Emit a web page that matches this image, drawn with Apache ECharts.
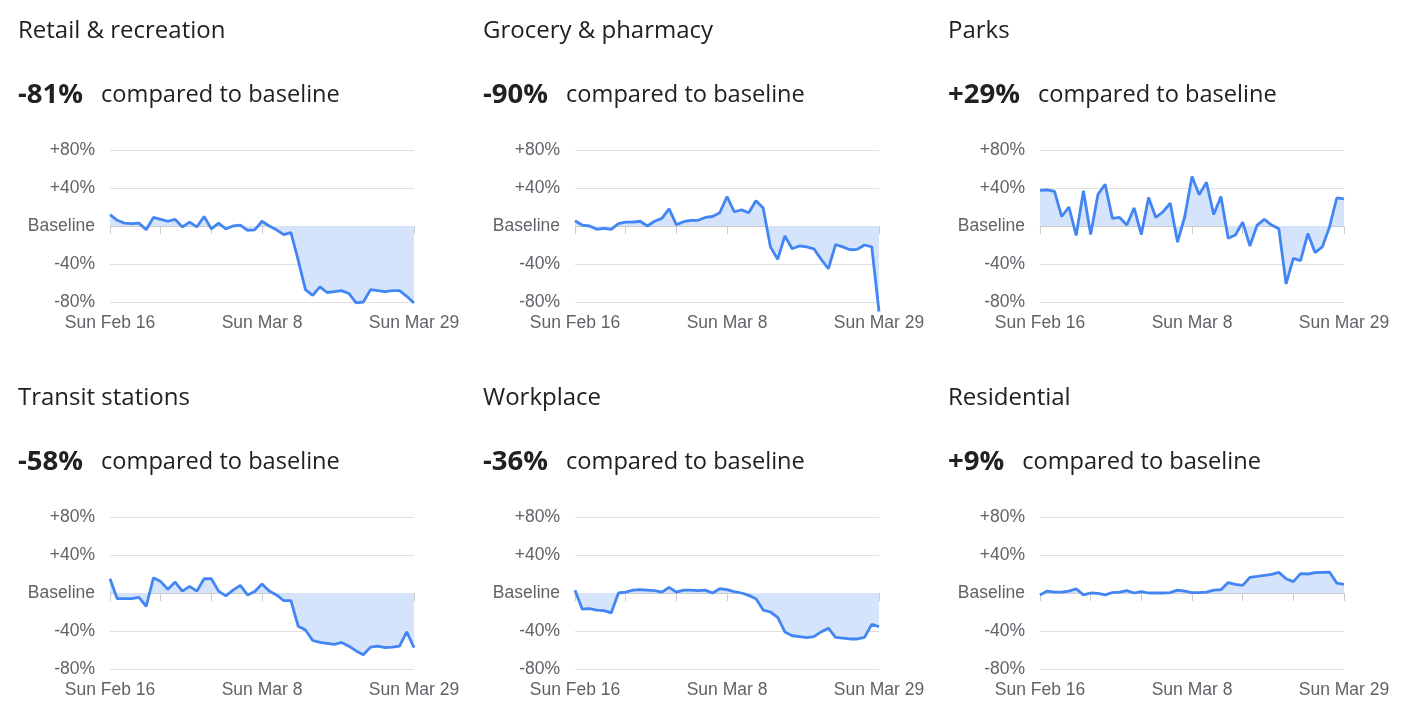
<!DOCTYPE html>
<html>
<head>
<meta charset="utf-8">
<script src="https://cdn.jsdelivr.net/npm/echarts@6/dist/echarts.min.js"></script>
<style>
html,body{margin:0;padding:0;background:#fff;}
#chart{width:1411px;height:727px;}
</style>
</head>
<body>
<div id="chart"></div>
<script>
const dates = [
  'Sun Feb 16','Mon Feb 17','Tue Feb 18','Wed Feb 19','Thu Feb 20','Fri Feb 21','Sat Feb 22',
  'Sun Feb 23','Mon Feb 24','Tue Feb 25','Wed Feb 26','Thu Feb 27','Fri Feb 28','Sat Feb 29',
  'Sun Mar 1','Mon Mar 2','Tue Mar 3','Wed Mar 4','Thu Mar 5','Fri Mar 6','Sat Mar 7',
  'Sun Mar 8','Mon Mar 9','Tue Mar 10','Wed Mar 11','Thu Mar 12','Fri Mar 13','Sat Mar 14',
  'Sun Mar 15','Mon Mar 16','Tue Mar 17','Wed Mar 18','Thu Mar 19','Fri Mar 20','Sat Mar 21',
  'Sun Mar 22','Mon Mar 23','Tue Mar 24','Wed Mar 25','Thu Mar 26','Fri Mar 27','Sat Mar 28',
  'Sun Mar 29'
];
const xTickLabels = ['Sun Feb 16', 'Sun Mar 8', 'Sun Mar 29'];
const yTicks = [-80, -40, 0, 40, 80];
const yTickLabels = ['-80%', '-40%', 'Baseline', '+40%', '+80%'];

const categories = ['Retail & recreation', 'Grocery & pharmacy', 'Parks', 'Transit stations', 'Workplace', 'Residential'];
const headlineValues = ['-81%', '-90%', '+29%', '-58%', '-36%', '+9%'];

const retail = [12,6,3,2.5,3,-4,9,7,5,7,-1,4,-1,10,-3,3,-3,0,1,-4.5,-4,5,0,-4,-9,-7,-36,-67,-73,-64,-70,-69,-68,-71,-81,-80,-67,-68,-69,-68,-68,-74,-81];
const grocery = [5.6,1,0,-3.5,-2.5,-3.5,2.5,4,4,5,0,5,8,18,1.5,4.5,6,6,9,10,14,31,15,17,14,26.5,19,-22,-35,-10.5,-24,-21,-22,-24,-35,-45,-19.6,-22,-25,-24.5,-20,-22,-90];
const parks = [37.5,38,36.5,10,20,-10,37,-9,33,44,8,9,1,19,-9,30,9,15,24,-17,10,52,33,46,12,31,-13,-9.5,4,-21,1,7,1,-3,-61,-34,-36.5,-8,-28,-22,-1,29.5,28.5];
const transit = [15,-6,-6,-6,-4.5,-14,16,12,4,11.5,2,7,2,15,15,2,-3,3,8,-2,1.5,9.5,2,-2,-8,-8,-35,-39,-50,-52,-53,-54,-52,-56,-61,-65,-57,-56,-57.5,-57,-56,-41,-57.5];
const workplace = [3,-17,-16.5,-18,-18.5,-21,0,1,3,3.5,3,2.5,1,6,1,3,3,2.5,3,0,4.5,3.5,1.5,0,-2.5,-6,-18,-20,-25.6,-41,-45,-46,-47,-46,-41,-37,-46.7,-47.4,-48.4,-48.4,-46.7,-33,-35.5];
const residential = [-2,2,1,1,2,4.5,-2,0,-0.5,-2,0.5,1,2.5,0,1.5,0,0,0,0.5,3,2,0.5,0.5,1,3,3.5,11,9,8,16.5,17.5,18.6,19.6,21.7,15,12,20.4,20,21.4,21.7,22,10.5,9];

const seriesData = [retail, grocery, parks, transit, workplace, residential];

const colLefts = [110, 575, 1040];
const rowTops = [150, 517];
const titleLefts = [18, 483, 948];
const titleTops = [19, 386];
const gridW = 304, gridH = 152;

const FONT_HEAD = '"Open Sans", Roboto, sans-serif';
const FONT_AXIS = '"Liberation Sans", Arial, sans-serif';

const titles = [], grids = [], xAxes = [], yAxes = [], series = [];
categories.forEach((name, i) => {
  const col = i % 3, row = Math.floor(i / 3);
  titles.push({
    text: name,
    left: titleLefts[col], top: titleTops[row], padding: 0,
    textStyle: { fontFamily: FONT_HEAD, fontSize: 24, fontWeight: 'normal', color: '#202124' }
  });
  titles.push({
    text: '{v|' + headlineValues[i] + '}{s|compared to baseline}',
    left: titleLefts[col], top: titleTops[row] + 62, padding: 0,
    textStyle: {
      rich: {
        v: { fontFamily: FONT_HEAD, fontSize: 27.5, fontWeight: 'bold', color: '#202124', padding: [0, 18, 0, 0] },
        s: { fontFamily: FONT_HEAD, fontSize: 23.6, fontWeight: 'normal', color: '#202124' }
      }
    }
  });
  grids.push({ left: colLefts[col], top: rowTops[row], width: gridW, height: gridH, containLabel: false });
  xAxes.push({
    type: 'category', gridIndex: i, data: dates, boundaryGap: false,
    axisLine: { show: true, lineStyle: { color: '#cccccc', width: 1 } },
    axisTick: { show: true, length: 8, lineStyle: { color: '#cccccc' }, interval: (idx) => idx % 7 === 0 },
    axisLabel: {
      interval: (idx, val) => xTickLabels.indexOf(val) >= 0,
      fontFamily: FONT_AXIS, fontSize: 17.5, color: '#5f6368', margin: 12
    },
    splitLine: { show: false }
  });
  yAxes.push({
    type: 'value', gridIndex: i, min: -80, max: 80, interval: 40,
    axisLine: { show: false }, axisTick: { show: false },
    axisLabel: {
      fontFamily: FONT_AXIS, fontSize: 17.5, color: '#5f6368', margin: 15,
      formatter: (v) => { const k = yTicks.indexOf(v); return k >= 0 ? yTickLabels[k] : ''; }
    },
    splitLine: { show: true, lineStyle: { color: '#e0e0e0', width: 1 } }
  });
  series.push({
    type: 'line', xAxisIndex: i, yAxisIndex: i, data: seriesData[i],
    symbol: 'none', clip: false, animation: false,
    lineStyle: { color: '#4285f4', width: 2.8 },
    itemStyle: { color: '#4285f4' },
    areaStyle: { color: '#d6e4fb', opacity: 1, origin: 0 }
  });
});

const chart = echarts.init(document.getElementById('chart'), null, { renderer: 'canvas' });
chart.setOption({
  backgroundColor: '#ffffff',
  animation: false,
  title: titles,
  grid: grids,
  xAxis: xAxes,
  yAxis: yAxes,
  series: series
});
</script>
</body>
</html>
